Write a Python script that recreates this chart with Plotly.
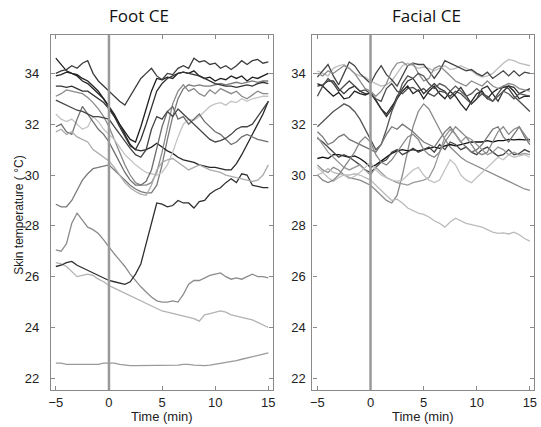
import plotly.graph_objects as go

time_min = [-5 + 0.5 * i for i in range(41)]
onset = 0
x_ticks = [-5, 0, 5, 10, 15]
y_ticks = [22, 24, 26, 28, 30, 32, 34]
panel_titles = ["Foot CE", "Facial CE"]

# ---------------- Foot CE ----------------
foot_1 = [22.6,22.6,22.55,22.55,22.55,22.55,22.55,22.55,22.55,22.6,
          22.6,22.6,22.55,22.52,22.5,22.5,22.5,22.5,22.52,22.5,
          22.5,22.52,22.5,22.52,22.55,22.55,22.52,22.5,22.5,22.52,
          22.55,22.58,22.62,22.65,22.7,22.75,22.8,22.85,22.9,22.95,
          23.0]
foot_2 = [26.55,26.5,26.4,26.2,26.0,26.05,26.1,26.05,25.9,25.8,
          25.65,25.55,25.45,25.35,25.25,25.15,25.05,24.95,24.85,24.75,
          24.65,24.6,24.55,24.5,24.45,24.4,24.35,24.25,24.5,24.55,
          24.6,24.65,24.6,24.5,24.45,24.4,24.35,24.3,24.2,24.1,
          24.0]
foot_3 = [27.05,27.0,27.3,28.1,28.5,28.2,27.95,27.85,27.7,27.45,
          27.15,26.9,26.65,26.4,26.1,25.85,25.6,25.4,25.2,25.05,
          25.0,25.0,25.05,25.0,25.3,25.7,25.85,25.85,25.95,26.05,
          26.1,26.15,26.0,25.9,25.95,25.9,26.0,26.1,26.0,26.0,
          25.95]
foot_4 = [26.4,26.45,26.55,26.6,26.45,26.35,26.25,26.15,26.05,25.95,
          25.85,25.8,25.75,25.7,25.8,26.1,26.5,27.3,28.2,28.9,
          28.85,28.75,28.8,29.0,28.9,28.9,28.7,28.95,29.0,29.25,
          29.4,29.5,29.7,29.85,29.7,30.05,30.0,29.6,29.55,29.5,
          29.5]
foot_5 = [28.85,28.75,28.75,29.0,29.4,29.8,30.05,30.25,30.3,30.35,
          30.4,30.2,30.0,29.8,29.6,29.45,29.35,29.3,29.3,29.6,
          30.4,31.4,32.3,33.0,33.4,33.55,33.5,33.55,33.5,33.5,
          33.55,33.6,33.55,33.6,33.65,33.6,33.65,33.7,33.65,33.7,
          33.7]
foot_6 = [34.6,34.35,34.1,34.0,33.95,33.8,33.7,33.5,33.3,33.0,
          32.65,32.3,32.0,31.7,31.4,31.3,31.9,32.6,33.3,33.8,
          33.75,33.85,33.8,34.0,34.05,34.0,34.1,33.9,33.8,33.85,
          33.7,33.8,33.75,33.9,33.8,33.9,33.7,33.85,33.8,33.9,
          34.0]
foot_7 = [34.0,34.1,34.15,34.3,34.2,34.4,34.5,34.0,33.7,33.5,
          33.3,33.1,32.9,32.75,33.1,33.5,33.8,34.0,34.2,33.9,
          33.75,34.0,33.95,34.2,34.3,34.2,34.6,34.45,34.5,34.35,
          34.4,34.2,34.3,34.15,34.3,34.5,34.35,34.5,34.55,34.4,
          34.45]
foot_8 = [33.9,33.95,34.05,34.0,33.9,33.7,33.6,33.4,33.2,33.0,
          32.7,32.4,32.0,31.6,31.2,31.0,30.95,31.0,31.1,31.25,
          31.1,30.95,30.85,30.7,30.6,30.55,30.5,30.4,30.35,30.3,
          30.3,30.25,30.2,30.2,30.45,30.8,31.2,31.6,32.0,32.4,
          32.9]
foot_9 = [33.5,33.5,33.45,33.5,33.4,33.3,33.3,33.15,33.0,32.85,
          32.6,32.3,31.9,31.5,31.15,31.0,31.4,32.0,32.7,33.3,
          33.6,33.8,33.9,34.0,34.05,34.0,33.95,33.9,33.8,33.7,
          33.6,33.55,33.5,33.5,33.45,33.5,33.55,33.5,33.6,33.65,
          33.6]
foot_10 = [33.1,33.2,33.35,33.3,33.25,33.2,33.05,32.85,32.6,32.3,
           31.9,31.4,30.9,30.4,30.0,29.7,29.6,29.6,29.7,30.1,
           30.9,31.9,32.8,33.3,33.55,33.3,33.4,33.2,33.1,33.35,
           33.2,33.4,33.3,33.2,33.3,33.1,33.0,33.15,33.3,33.2,
           33.2]
foot_11 = [32.4,32.2,32.1,32.2,32.0,31.8,31.9,32.3,32.1,31.8,
           31.6,31.4,31.1,30.8,30.6,30.4,30.25,30.1,30.05,30.0,
           30.1,30.4,30.9,31.5,32.0,32.2,32.15,32.3,32.5,32.7,
           32.8,32.85,32.75,32.9,32.85,33.0,32.9,33.0,33.05,33.1,
           33.1]
foot_12 = [31.9,32.0,31.7,31.6,32.2,32.7,32.4,32.1,31.8,31.6,
           31.3,30.9,30.5,30.1,29.8,29.6,29.6,29.75,30.2,31.0,
           31.9,32.5,32.7,32.2,32.3,32.0,32.2,32.4,32.1,31.9,
           31.7,31.6,31.4,31.2,31.3,31.5,31.6,31.5,31.4,31.35,
           31.3]
foot_13 = [31.7,31.8,31.6,31.7,31.5,31.4,31.3,31.0,30.85,30.7,
           30.55,30.3,30.0,29.7,29.5,29.35,29.25,29.2,29.6,30.2,
           30.5,30.6,30.65,30.5,30.35,30.2,30.3,30.4,30.3,30.2,
           30.15,30.1,30.0,29.95,29.9,29.85,29.8,29.75,29.8,30.0,
           30.4]
foot_14 = [32.95,32.85,32.75,32.65,32.55,32.5,32.4,32.3,32.3,32.25,
           32.2,31.9,31.6,31.3,31.05,30.8,30.7,31.0,31.8,32.3,
           32.2,32.5,32.3,32.6,32.4,32.2,32.0,31.8,31.6,31.4,
           31.3,31.35,31.45,31.6,31.8,31.9,31.9,32.0,32.3,32.6,
           32.9]

# ---------------- Facial CE ----------------
face_1 = [34.1,34.0,33.9,34.2,34.3,34.35,34.2,34.0,33.9,33.85,
          33.7,33.6,33.5,33.55,33.7,34.0,34.3,34.4,34.3,34.2,
          34.25,34.2,34.1,34.2,34.3,34.15,34.2,34.3,34.2,34.1,
          33.95,33.85,33.9,34.0,34.2,34.4,34.55,34.5,34.4,34.35,
          34.3]
face_2 = [33.85,34.1,34.35,33.9,33.55,34.0,34.45,34.3,34.0,33.8,
          33.6,34.0,34.3,33.95,33.75,33.5,33.9,34.3,34.4,34.35,
          34.35,34.1,33.8,34.1,34.5,34.4,34.3,34.2,34.1,34.15,
          34.0,33.9,34.05,33.8,33.95,34.1,33.9,34.1,33.9,34.05,
          34.0]
face_3 = [33.6,33.5,33.3,33.1,33.25,33.0,33.05,33.3,33.2,33.15,
          33.25,32.9,32.6,32.4,32.7,33.0,33.3,33.5,33.2,33.35,
          33.0,33.3,33.5,33.2,33.0,33.3,33.1,32.8,32.55,32.9,
          33.2,33.3,33.0,33.25,33.4,33.45,33.5,33.3,33.0,33.1,
          33.1]
face_4 = [33.5,33.55,33.7,33.7,33.4,33.2,33.4,33.5,33.3,33.2,
          33.2,32.95,32.6,32.3,32.6,33.1,33.4,33.7,33.8,33.5,
          33.2,33.4,33.6,33.4,33.3,33.0,33.2,33.45,33.1,32.8,
          33.0,33.4,33.5,33.2,32.9,33.3,33.5,33.45,33.2,33.3,
          33.4]
face_5 = [33.1,33.5,33.8,33.6,33.3,33.5,33.7,33.5,33.3,33.35,
          33.2,33.0,32.9,33.4,33.6,33.3,33.2,33.4,33.45,33.3,
          33.4,33.2,33.1,33.3,33.25,33.1,33.3,33.2,33.0,32.8,
          33.0,33.2,33.1,32.9,33.2,33.5,33.4,33.1,32.9,32.7,
          32.5]
face_6 = [34.0,33.9,34.1,34.0,34.15,34.3,34.2,34.0,33.7,33.4,
          33.3,33.1,33.3,33.6,34.1,34.4,34.45,34.3,34.4,34.0,
          33.7,33.8,34.2,34.3,34.1,33.9,33.7,33.6,33.5,33.7,
          33.6,33.5,33.7,33.5,33.4,33.5,33.6,33.55,33.4,33.35,
          33.3]
face_7 = [31.9,32.1,32.3,32.5,32.65,32.8,32.7,32.5,32.2,31.8,
          31.4,31.0,31.2,31.8,32.5,33.0,33.6,33.9,33.8,34.0,
          33.9,33.6,33.4,33.6,33.5,33.3,33.5,33.3,33.1,33.2,
          33.4,33.2,33.0,32.9,33.1,33.3,33.2,33.0,33.2,33.15,
          33.1]
face_8 = [30.4,30.2,30.1,30.3,30.2,30.0,29.9,29.85,29.8,29.7,
          29.6,29.4,29.2,29.0,28.9,29.2,30.0,31.0,31.9,32.5,
          32.8,32.6,32.2,31.8,31.4,31.1,30.9,30.7,30.55,30.45,
          30.35,30.25,30.15,30.05,29.95,29.85,29.75,29.65,29.55,29.45,
          29.4]
face_9 = [30.65,30.7,30.65,30.8,30.8,30.75,30.7,30.75,30.65,30.5,
          30.3,30.4,30.55,30.7,30.85,30.95,31.0,30.95,31.0,30.95,
          31.0,31.05,31.1,31.05,31.15,31.2,31.15,31.2,31.25,31.3,
          31.3,31.3,31.35,31.3,31.35,31.35,31.4,31.38,31.4,31.38,
          31.4]
face_10 = [31.45,31.3,31.1,30.9,30.7,30.8,30.7,30.55,30.4,30.2,
           30.1,30.3,30.5,30.6,30.9,31.0,30.8,30.9,31.05,30.9,
           31.0,31.1,30.9,31.2,31.0,31.3,31.2,31.0,31.1,30.9,
           30.8,31.0,31.1,30.9,30.75,30.8,31.0,30.8,30.85,31.0,
           30.9]
face_11 = [31.7,31.5,31.2,31.3,31.5,31.6,31.4,31.3,31.2,31.1,
           31.0,30.9,31.2,31.6,31.9,31.8,32.0,31.85,31.7,31.5,
           31.3,31.2,31.1,31.4,31.7,31.9,31.6,31.3,31.1,30.9,
           31.0,31.2,31.5,31.8,31.9,31.5,31.3,31.6,31.9,31.5,
           31.2]
face_12 = [31.5,31.2,30.9,30.7,30.5,30.3,30.2,30.3,30.4,30.2,
           30.0,30.3,30.1,29.9,29.8,29.7,29.65,29.6,29.7,29.75,
           29.8,29.9,30.3,30.9,31.5,31.8,31.6,31.3,31.5,31.4,
           31.2,31.0,30.8,30.9,31.1,31.0,30.8,30.9,30.8,30.85,
           30.8]
face_13 = [30.3,30.1,29.9,29.75,29.9,30.0,29.85,29.95,30.1,30.3,
           30.5,30.2,30.0,29.9,29.8,29.75,29.8,30.0,30.2,30.3,
           30.0,29.8,29.7,29.8,30.2,30.6,30.4,30.0,29.8,29.7,
           29.9,30.1,30.3,30.5,30.7,30.6,30.8,30.7,30.75,30.8,
           30.7]
face_14 = [30.0,30.1,30.25,30.1,30.05,30.0,30.0,30.05,30.0,29.9,
           29.8,29.6,29.4,29.2,29.0,29.05,28.9,28.7,28.6,28.5,
           28.45,28.35,28.2,28.1,27.95,28.15,28.3,28.2,28.1,28.05,
           28.0,27.95,27.85,27.75,27.7,27.72,27.68,27.75,27.65,27.5,
           27.4]
face_15 = [30.0,29.8,29.7,29.8,30.0,30.3,30.6,30.9,31.3,31.5,
           31.3,30.8,30.5,30.4,30.6,30.9,31.2,31.5,31.6,31.4,
           31.0,30.8,30.7,30.9,31.3,31.6,31.9,31.7,31.5,31.2,
           30.9,30.8,30.9,31.3,31.7,31.9,31.6,31.8,31.9,31.6,
           31.3]

foot_series = [foot_1, foot_2, foot_3, foot_4, foot_5, foot_6, foot_7,
               foot_8, foot_9, foot_10, foot_11, foot_12, foot_13, foot_14]
foot_colors = ["#9a9a9a", "#b2b2b2", "#8c8c8c", "#2e2e2e", "#7a7a7a", "#1e1e1e", "#3c3c3c",
               "#262626", "#333333", "#8a8a8a", "#c4c4c4", "#6e6e6e", "#ababab", "#444444"]
face_series = [face_1, face_2, face_3, face_4, face_5, face_6, face_7, face_8,
               face_9, face_10, face_11, face_12, face_13, face_14, face_15]
face_colors = ["#bdbdbd", "#444444", "#222222", "#333333", "#4a4a4a", "#8c8c8c", "#555555", "#8a8a8a",
               "#111111", "#444444", "#777777", "#999999", "#c2c2c2", "#bbbbbb", "#888888"]

for s in foot_series + face_series:
    assert len(s) == len(time_min), len(s)

fig = go.Figure()
for vals, col in zip(foot_series, foot_colors):
    fig.add_trace(go.Scatter(x=time_min, y=vals, mode="lines", xaxis="x", yaxis="y",
                             line=dict(color=col, width=1.3), showlegend=False, hoverinfo="skip"))
for vals, col in zip(face_series, face_colors):
    fig.add_trace(go.Scatter(x=time_min, y=vals, mode="lines", xaxis="x2", yaxis="y2",
                             line=dict(color=col, width=1.3), showlegend=False, hoverinfo="skip"))

W, H = 541, 427
xd1 = [49.3 / W, 273.3 / W]
xd2 = [313.3 / W, 537.3 / W]
yd = [1 - 390 / H, 1 - 35 / H]
xr = [-5.47, 15.42]
yr = [21.54, 35.51]

tick_font = dict(family="Liberation Sans", size=13, color="#222222")
axis_common = dict(showline=True, linecolor="#8a8a8a", linewidth=1.2, mirror="ticks",
                   ticks="inside", ticklen=4, tickcolor="#8a8a8a", tickwidth=1,
                   showgrid=False, zeroline=False, tickfont=tick_font)

fig.update_layout(
    width=W, height=H, margin=dict(l=0, r=0, t=0, b=0),
    paper_bgcolor="white", plot_bgcolor="white",
    font=dict(family="Liberation Sans"),
    xaxis=dict(domain=xd1, range=xr, tickvals=x_ticks, anchor="y", ticklabelstandoff=0, **axis_common),
    yaxis=dict(domain=yd, range=yr, tickvals=y_ticks, anchor="x", ticklabelstandoff=8, **axis_common),
    xaxis2=dict(domain=xd2, range=xr, tickvals=x_ticks, anchor="y2", ticklabelstandoff=0, **axis_common),
    yaxis2=dict(domain=yd, range=yr, tickvals=y_ticks, anchor="x2", ticklabelstandoff=3, **axis_common),
)

for xref in ["x", "x2"]:
    fig.add_shape(type="line", xref=xref, yref="paper", x0=onset, x1=onset, y0=yd[0], y1=yd[1],
                  line=dict(color="#9a9a9a", width=2.5), layer="above")

title_font = dict(family="Open Sans", size=17, color="#111111")
title_centers = [138 / W, 428 / W]
for title, cx in zip(panel_titles, title_centers):
    fig.add_annotation(text=title, xref="paper", yref="paper", x=cx,
                       y=1 - 15 / H, showarrow=False, font=title_font, xanchor="center", yanchor="middle")
for dom in [xd1, xd2]:
    fig.add_annotation(text="Time (min)", xref="paper", yref="paper", x=(dom[0] + dom[1]) / 2,
                       y=1 - 416 / H, showarrow=False, xanchor="center", yanchor="middle",
                       font=dict(family="Liberation Sans", size=13, color="#222222"))

fig.add_annotation(text="Skin temperature ( °C)", xref="paper", yref="paper", x=17 / W, y=1 - 215 / H,
                   textangle=-90, showarrow=False, xanchor="center", yanchor="middle",
                   font=dict(family="Liberation Sans", size=12, color="#222222"))

fig.write_html("out.html")
